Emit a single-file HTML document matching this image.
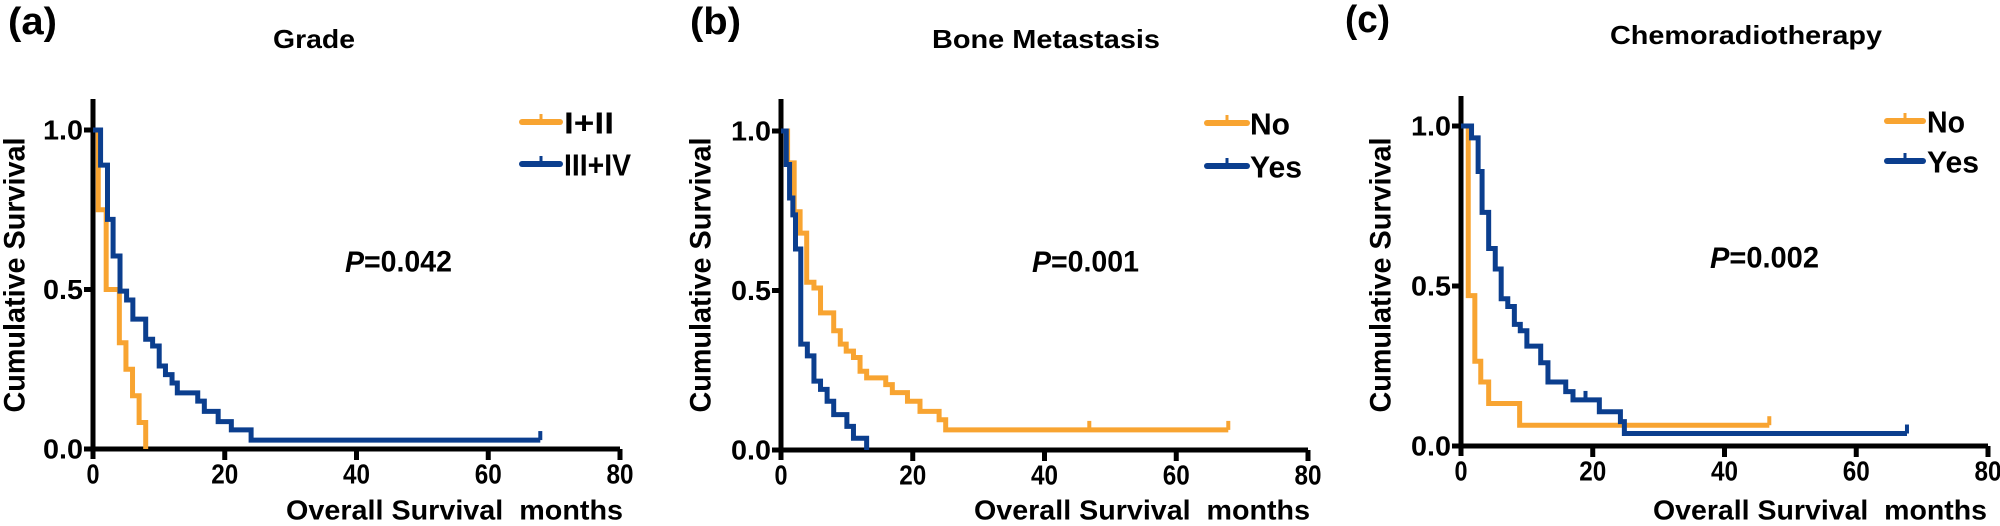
<!DOCTYPE html>
<html><head><meta charset="utf-8"><style>
html,body{margin:0;padding:0;background:#fff;}
svg{display:block;}
text{font-family:"Liberation Sans",Arial,sans-serif;font-weight:bold;fill:#000;}
</style></head><body>
<svg id="s" width="2000" height="526" viewBox="0 0 2000 526" xmlns="http://www.w3.org/2000/svg"></svg>
<script>
const S=document.getElementById('s');
const OR='#F8A431',BL='#0B3E8E';
let h='';
function T(x,y,s,fs,opt={}){
  let a=opt.anchor||'start';
  let tl=opt.tl?` textLength="${opt.tl}" lengthAdjust="spacingAndGlyphs"`:'';
  let tr=opt.rot?` transform="rotate(-90 ${x} ${y})"`:'';
  h+=`<text x="${x}" y="${y}" font-size="${fs}" text-anchor="${a}" dominant-baseline="central"${tl}${tr}${opt.it?' font-style="italic"':''}>${s}</text>`;
}
function panel(p){
  const X0=p.x0,Y0=p.y0,Y1=p.y1,k=527/80;
  const fx=t=>X0+t*k, fy=s=>Y0-(Y0-Y1)*s;
  h+=`<path d="M${X0} ${p.top} V${Y0+10} M${X0-9} ${Y0} H${fx(80)}" stroke="#000" stroke-width="5" fill="none"/>`;
  for(let v of [0,0.5,1]) h+=`<line x1="${X0-9}" x2="${X0}" y1="${fy(v)}" y2="${fy(v)}" stroke="#000" stroke-width="5"/>`;
  for(let t of [20,40,60,80]) h+=`<line x1="${fx(t)}" x2="${fx(t)}" y1="${Y0}" y2="${Y0+11}" stroke="#000" stroke-width="5"/>`;
  T(X0-10,fy(1),'1.0',28,{anchor:'end',tl:40});
  T(X0-10,fy(0.5),'0.5',28,{anchor:'end',tl:40});
  T(X0-10,fy(0),'0.0',28,{anchor:'end',tl:40});
  for(let t of [0,20,40,60,80]) T(fx(t),Y0+25,String(t),28,{anchor:'middle',tl:t?27:13});
  for(const s of p.series){
    let d=`M${fx(0)} ${fy(1)}`;
    for(const [t,v] of s.steps){ d+=` H${fx(t)} V${fy(v)}`; }
    d+=` H${fx(s.end)}`;
    h+=`<path d="${d}" stroke="${s.c}" stroke-width="5" fill="none" stroke-linejoin="miter"/>`;
    for(const [c,v] of s.cens||[]) h+=`<line x1="${fx(c)}" x2="${fx(c)}" y1="${fy(v)}" y2="${fy(v)-9}" stroke="${s.c}" stroke-width="4"/>`;
  }
  p.leg.forEach((l,i)=>{
    const y=l.y;
    h+=`<line x1="${l.x1}" x2="${l.x2}" y1="${y}" y2="${y}" stroke="${l.c}" stroke-width="6" stroke-linecap="round"/>`;
    h+=`<line x1="${(l.x1+l.x2)/2}" x2="${(l.x1+l.x2)/2}" y1="${y}" y2="${y-8}" stroke="${l.c}" stroke-width="3"/>`;
    T(l.tx,y+1,l.t,31,{tl:l.tl});
  });
  T(p.lab[0],p.lab[1],p.lab[2],38,{tl:p.lab[3]});
  T(p.tit[0],p.tit[1],p.tit[2],26,{anchor:'middle',tl:p.tit[3]});
  h+=`<text x="${p.P[0]}" y="${p.P[1]}" font-size="30" dominant-baseline="central" textLength="${p.P[2]}" lengthAdjust="spacingAndGlyphs"><tspan font-style="italic">P</tspan>=${p.P[3]}</text>`;
  T(p.xt[0],510,'Overall Survival&#160;&#160;months',28,{anchor:'end',tl:p.xt[1]});
  T(p.yl,275,'Cumulative Survival',30,{anchor:'middle',rot:true,tl:275});
}
panel({x0:93,y0:449,y1:130,top:99,
 series:[
  {c:OR,end:8,steps:[[0.8,0.75],[2,0.5],[4,0.333],[5,0.25],[6,0.167],[7,0.083],[8,0]]},
  {c:BL,end:67.9,cens:[[67.9,0.028]],steps:[[1.15,0.89],[2.2,0.72],[3.05,0.605],[4.1,0.495],[5.1,0.467],[6.05,0.407],[8,0.344],[9.05,0.323],[10.05,0.26],[11,0.233],[12,0.207],[12.8,0.176],[15.9,0.15],[16.9,0.118],[19,0.086],[21,0.06],[24,0.028]]}
 ],
 leg:[{x1:522,x2:560,y:122,c:OR,tx:564,t:'I+II',tl:50},{x1:522,x2:560,y:164,c:BL,tx:564,t:'III+IV',tl:67}],
 lab:[8,22,'(a)',49],tit:[314,39,'Grade',82],P:[345,262,107,'0.042'],xt:[623,337],yl:15});
panel({x0:781,y0:450,y1:131,top:99,
 series:[
  {c:OR,end:67.9,cens:[[46.8,0.063],[67.9,0.063]],steps:[[1,0.9],[2,0.747],[2.9,0.68],[3.9,0.526],[5,0.508],[6,0.43],[8,0.374],[9,0.332],[9.9,0.31],[11,0.29],[12,0.247],[13,0.226],[15.9,0.205],[16.9,0.18],[19.2,0.153],[21.1,0.121],[24,0.095],[25,0.063]]},
  {c:BL,end:13,steps:[[0.8,0.895],[1.3,0.79],[1.8,0.737],[2.2,0.63],[3,0.332],[4,0.295],[5,0.216],[6,0.19],[7,0.153],[8,0.111],[10,0.074],[11,0.037],[13,0]]}
 ],
 leg:[{x1:1207,x2:1247,y:123,c:OR,tx:1250,t:'No',tl:40},{x1:1207,x2:1247,y:166,c:BL,tx:1250,t:'Yes',tl:52}],
 lab:[690,22,'(b)',51],tit:[1046,39,'Bone Metastasis',228],P:[1032,262,107,'0.001'],xt:[1310,336],yl:701});
panel({x0:1461,y0:446,y1:126,top:96,
 series:[
  {c:OR,end:46.8,cens:[[46.8,0.065]],steps:[[1.1,0.47],[2.1,0.265],[3,0.2],[4.2,0.133],[8.9,0.065]]},
  {c:BL,end:67.7,cens:[[18.9,0.144],[67.7,0.039]],steps:[[1.6,0.963],[2.6,0.858],[3.2,0.73],[4.2,0.617],[5.2,0.553],[6.1,0.46],[7.1,0.436],[8.1,0.38],[9,0.36],[10,0.312],[12.1,0.26],[13.2,0.2],[15.9,0.17],[17,0.144],[21,0.107],[24.2,0.076],[24.8,0.039]]}
 ],
 leg:[{x1:1887,x2:1923,y:121,c:OR,tx:1927,t:'No',tl:38},{x1:1887,x2:1923,y:161,c:BL,tx:1927,t:'Yes',tl:52}],
 lab:[1345,20,'(c)',45],tit:[1746,35,'Chemoradiotherapy',272],P:[1710,258,109,'0.002'],xt:[1987,334],yl:1381});
S.innerHTML=h;
</script>
</body></html>
